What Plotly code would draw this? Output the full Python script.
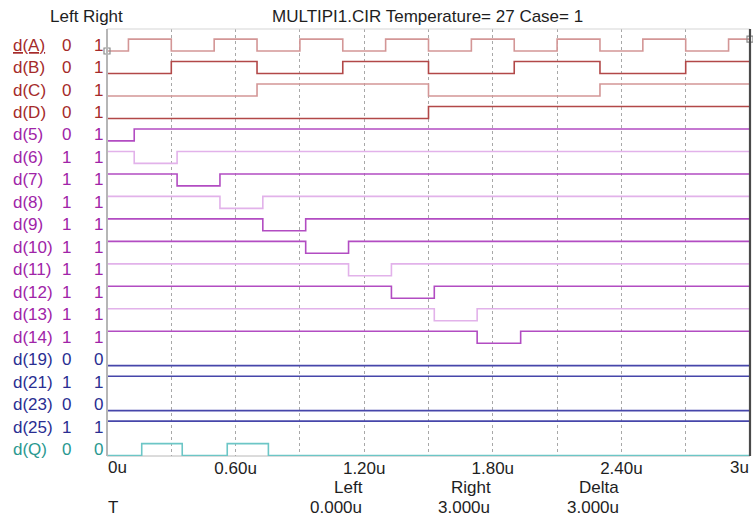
import plotly.graph_objects as go

# ---------------- data ----------------
names = ["<u>d(A)</u>", "d(B)", "d(C)", "d(D)", "d(5)", "d(6)", "d(7)", "d(8)", "d(9)",
         "d(10)", "d(11)", "d(12)", "d(13)", "d(14)", "d(19)", "d(21)", "d(23)", "d(25)", "d(Q)"]
left_vals = ["0", "0", "0", "0", "0", "1", "1", "1", "1", "1", "1", "1", "1", "1", "0", "1", "0", "1", "0"]
right_vals = ["1", "1", "1", "1", "1", "1", "1", "1", "1", "1", "1", "1", "1", "1", "0", "1", "0", "1", "0"]

A_t = [0, 0.1, 0.3, 0.5, 0.7, 0.9, 1.1, 1.3, 1.5, 1.7, 1.9, 2.1, 2.3, 2.5, 2.7, 2.9, 3.0]
A_v = [0, 1, 0, 1, 0, 1, 0, 1, 0, 1, 0, 1, 0, 1, 0, 1, 1]
B_t = [0, 0.3, 0.7, 1.1, 1.5, 1.9, 2.3, 2.7, 3.0]
B_v = [0, 1, 0, 1, 0, 1, 0, 1, 1]
C_t = [0, 0.7, 1.5, 2.3, 3.0]
C_v = [0, 1, 0, 1, 1]
D_t = [0, 1.5, 3.0]
D_v = [0, 1, 1]
d5_t = [0, 0.127, 3.0]
d5_v = [0, 1, 1]
d6_t = [0, 0.127, 0.327, 3.0]
d7_t = [0, 0.327, 0.527, 3.0]
d8_t = [0, 0.527, 0.727, 3.0]
d9_t = [0, 0.727, 0.927, 3.0]
d10_t = [0, 0.927, 1.127, 3.0]
d11_t = [0, 1.127, 1.327, 3.0]
d12_t = [0, 1.327, 1.527, 3.0]
d13_t = [0, 1.527, 1.727, 3.0]
d14_t = [0, 1.727, 1.93, 3.0]
pulse_v = [1, 0, 1, 1]
d19_t, d19_v = [0, 3.0], [0, 0]
d21_t, d21_v = [0, 3.0], [1, 1]
d23_t, d23_v = [0, 3.0], [0, 0]
d25_t, d25_v = [0, 3.0], [1, 1]
Q_t = [0, 0.162, 0.351, 0.561, 0.753, 3.0]
Q_v = [0, 1, 0, 1, 0, 0]

signals = [(A_t, A_v), (B_t, B_v), (C_t, C_v), (D_t, D_v), (d5_t, d5_v),
           (d6_t, pulse_v), (d7_t, pulse_v), (d8_t, pulse_v), (d9_t, pulse_v),
           (d10_t, pulse_v), (d11_t, pulse_v), (d12_t, pulse_v), (d13_t, pulse_v),
           (d14_t, pulse_v), (d19_t, d19_v), (d21_t, d21_v), (d23_t, d23_v),
           (d25_t, d25_v), (Q_t, Q_v)]

tick_vals = [0.3, 0.6, 0.9, 1.2, 1.5, 1.8, 2.1, 2.4, 2.7]
tick_text = ["", "0.60u", "", "1.20u", "", "1.80u", "", "2.40u", ""]

# ---------------- styles ----------------
RED_L, RED_D = "#d39696", "#b24848"
PUR_D, PUR_L = "#b24cc2", "#e2b2ea"
NAVY, TEAL = "#4646aa", "#6cc6c6"
line_colors = [RED_L, RED_D, RED_L, RED_D,
               PUR_D, PUR_L, PUR_D, PUR_L, PUR_D, PUR_D, PUR_L, PUR_D, PUR_L, PUR_D,
               NAVY, NAVY, NAVY, NAVY, TEAL]
label_colors = ["#a52a2a"] * 4 + ["#a024a8"] * 10 + ["#2a2e92"] * 4 + ["#2a9890"]

W, H = 753, 519
L, R, T, B = 107, 3, 29, 63
HIGH = 0.53
FONT = "Liberation Sans, Arial, sans-serif"
FS = 17
TXT = "#1e1e1e"


def px_x(px):
    return (px - L) / (W - L - R)


def px_y(py):
    return (H - B - py) / (H - T - B)


fig = go.Figure()
for i, (t, v) in enumerate(signals):
    fig.add_trace(go.Scatter(
        x=t, y=[-i + HIGH * val for val in v], mode="lines",
        line=dict(color=line_colors[i], width=1.6, shape="hv"),
        hoverinfo="skip", showlegend=False))

# cursor markers
fig.add_trace(go.Scatter(
    x=[A_t[0], A_t[-1]], y=[HIGH * A_v[0], HIGH * A_v[-1]], mode="markers",
    marker=dict(symbol="square-open", size=6, color="#8a8a8a", line=dict(width=1.2)),
    cliponaxis=False, hoverinfo="skip", showlegend=False))

ann = []
for i, n in enumerate(names):
    ym = -i + HIGH / 2
    ann.append(dict(x=px_x(11), xref="paper", y=ym, yref="y", text=n, showarrow=False,
                    xanchor="left", yanchor="middle",
                    font=dict(family=FONT, size=FS, color=label_colors[i])))
    ann.append(dict(x=px_x(66.5), xref="paper", y=ym, yref="y", text=left_vals[i],
                    showarrow=False, xanchor="center", yanchor="middle",
                    font=dict(family=FONT, size=FS, color=label_colors[i])))
    ann.append(dict(x=px_x(98.5), xref="paper", y=ym, yref="y", text=right_vals[i],
                    showarrow=False, xanchor="center", yanchor="middle",
                    font=dict(family=FONT, size=FS, color=label_colors[i])))


def txt(px, py, s, anchor="center"):
    ann.append(dict(x=px_x(px), xref="paper", y=px_y(py), yref="paper", text=s,
                    showarrow=False, xanchor=anchor, yanchor="middle",
                    font=dict(family=FONT, size=FS, color=TXT)))


txt(48, 17, "Left Right", "left")
txt(427, 17, "MULTIPI1.CIR Temperature= 27 Case= 1")
txt(106, 467, "0u", "left")
txt(751, 467, "3u", "right")
txt(348, 487, "Left")
txt(471, 487, "Right")
txt(599, 487, "Delta")
txt(113, 508, "T")
txt(336, 508, "0.000u")
txt(464, 508, "3.000u")
txt(593, 508, "3.000u")

shapes = [
    dict(type="line", xref="paper", yref="paper", x0=0, x1=1, y0=1, y1=1,
         line=dict(color="#d6d6d6", width=1.2), layer="above"),
    dict(type="line", xref="paper", yref="paper", x0=0, x1=1, y0=0, y1=0,
         line=dict(color="#b8b8b8", width=1), layer="below"),
    dict(type="line", xref="paper", yref="paper", x0=0, x1=0, y0=0, y1=1,
         line=dict(color="#b6b6b6", width=2), layer="above"),
    dict(type="line", xref="paper", yref="paper", x0=1, x1=1, y0=0, y1=1,
         line=dict(color="#4a4a4a", width=2.2), layer="above"),
]

fig.update_layout(
    width=W, height=H, margin=dict(l=L, r=R, t=T, b=B),
    paper_bgcolor="white", plot_bgcolor="white",
    font=dict(family=FONT, size=FS, color=TXT),
    xaxis=dict(range=[0, 3], tickvals=tick_vals, ticktext=tick_text,
               showgrid=True, gridcolor="#a8a8a8", gridwidth=1, griddash="dot",
               zeroline=False, showline=False, ticks="", ticklen=0,
               tickfont=dict(family=FONT, size=FS, color=TXT), fixedrange=True),
    yaxis=dict(range=[-18.02, 0.979], showgrid=False, zeroline=False,
               showticklabels=False, showline=False, ticks="", fixedrange=True),
    annotations=ann, shapes=shapes,
)

fig.write_html("out.html", config={"displayModeBar": False},
               post_script="document.body.style.margin='0';document.body.style.overflow='hidden';")
